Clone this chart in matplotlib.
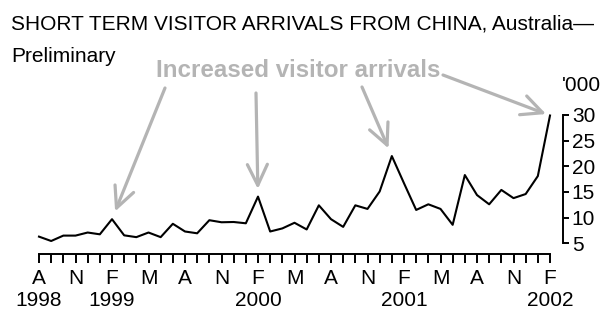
import matplotlib.pyplot as plt
import numpy as np

plt.rcParams['font.family'] = ['Liberation Sans', 'DejaVu Sans']

# monthly short term visitor arrivals from China ('000), Aug 1998 - Feb 2002
arrivals = [6.3, 5.45, 6.5, 6.5, 7.1, 6.75, 9.7, 6.55, 6.2, 7.1, 6.2, 8.8,
            7.3, 6.95, 9.5, 9.1, 9.15, 8.9, 14.1, 7.3, 7.9, 9.0, 7.7, 12.4,
            9.7, 8.2, 12.4, 11.7, 15.1, 22.0, 16.7, 11.5, 12.6, 11.7, 8.6, 18.3,
            14.4, 12.6, 15.4, 13.8, 14.6, 18.1, 29.9]
month_letters = ['A', 'N', 'F', 'M']
year_labels = {0: '1998', 6: '1999', 18: '2000', 30: '2001', 42: '2002'}
y_ticks = [5, 10, 15, 20, 25, 30]
peaks = [6, 18, 29, 42]  # months the arrows point at

grey = '#b4b4b4'
W, H = 601, 311

fig = plt.figure(figsize=(6.01, 3.11), dpi=100)
ax = fig.add_axes([39 / W, 1 - 254 / H, 511 / W, 139 / H])

x = np.arange(len(arrivals))
ax.plot(x, arrivals, color='black', lw=1.5, clip_on=False)
ax.set_xlim(0, len(arrivals) - 1)
ax.set_ylim(2.915, 30)

ax.spines['top'].set_visible(False)
ax.spines['left'].set_visible(False)
ax.spines['right'].set_position(('outward', 9.4))
ax.spines['right'].set_bounds(5, 30)
ax.spines['right'].set_linewidth(1.4)
ax.spines['bottom'].set_linewidth(1.4)

# y axis on the right
ax.yaxis.tick_right()
ax.set_yticks(y_ticks)
ax.tick_params(axis='y', direction='out', length=4.3, width=1.4, pad=2,
               labelsize=15)

# x axis: quarterly letters, monthly minor ticks
major = list(range(0, len(arrivals), 3))
labels = []
for k, i in enumerate(major):
    lab = month_letters[k % 4]
    if i in year_labels:
        lab += '\n' + year_labels[i]
    labels.append(lab)
ax.set_xticks(major)
ax.set_xticklabels(labels)
ax.set_xticks(x, minor=True)
ax.tick_params(axis='x', which='both', direction='out', length=6.5,
               width=1.4, pad=4.5, labelsize=15)

fig.text(11 / W, 1 - 30 / H,
         'SHORT TERM VISITOR ARRIVALS FROM CHINA, Australia\u2014',
         fontsize=15, va='baseline')
fig.text(11 / W, 1 - 62 / H, 'Preliminary', fontsize=15, va='baseline')
fig.text(562 / W, 1 - 91 / H, "'000", fontsize=15, va='baseline')

fig.text(156 / W, 1 - 77 / H, 'Increased visitor arrivals', fontsize=17.4,
         fontweight='bold', color=grey, va='baseline')

# arrows from the label to the peaks
starts = [(165, 88), (256, 93), (362, 87), (443, 75)]
shrinks = [6, 5.5, 6, 3]
for p, (sx, sy), s in zip(peaks, starts, shrinks):
    ax.annotate('', xy=(p, arrivals[p]), xycoords='data',
                xytext=(sx, H - sy), textcoords='figure pixels',
                arrowprops=dict(arrowstyle='->,head_length=0.75,head_width=0.36',
                                color=grey, lw=2.3, shrinkA=0, shrinkB=s,
                                mutation_scale=20))

fig.savefig('out.png', dpi=100)
